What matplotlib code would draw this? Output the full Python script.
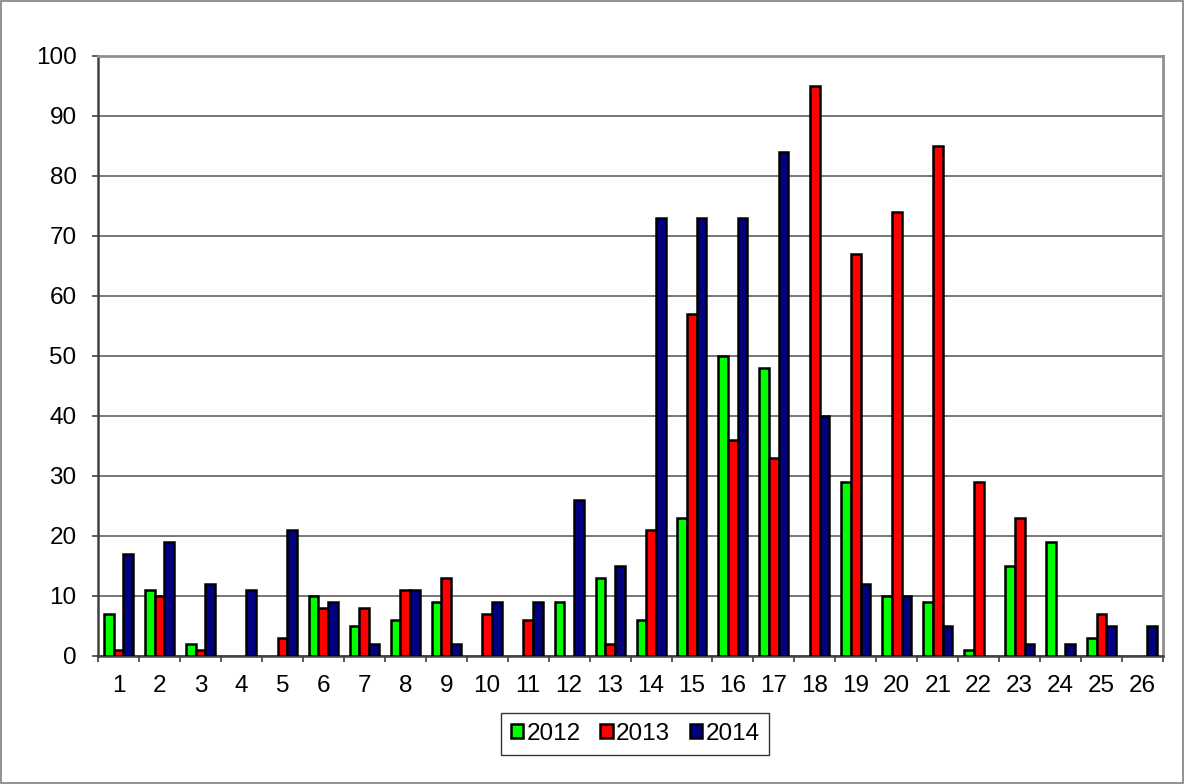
import numpy as np
import matplotlib
matplotlib.use("Agg")
import matplotlib.pyplot as plt
from matplotlib.patches import Rectangle

plt.rcParams['font.family'] = ['Liberation Sans', 'DejaVu Sans']

groups = list(range(1, 27))
years = ["2012", "2013", "2014"]
v2012 = [7, 11, 2, 0, 0, 10, 5, 6, 9, 0, 0, 9, 13, 6, 23, 50, 48, 0, 29, 10, 9, 1, 15, 19, 3, 0]
v2013 = [1, 10, 1, 0, 3, 8, 8, 11, 13, 7, 6, 0, 2, 21, 57, 36, 33, 95, 67, 74, 85, 29, 23, 0, 7, 0]
v2014 = [17, 19, 12, 11, 21, 9, 2, 11, 2, 9, 9, 26, 15, 73, 73, 73, 84, 40, 12, 10, 5, 0, 2, 2, 5, 5]
colors = ["#00ff00", "#ff0000", "#000080"]

fig = plt.figure(figsize=(11.84, 7.84), dpi=100)
ax = fig.add_axes([0.0828, 0.1633, 0.8995, 0.7653])

x = np.array(groups)
w = 0.236
for i, (vals, c, lab) in enumerate(zip([v2012, v2013, v2014], colors, years)):
    vals = np.array(vals)
    keep = vals > 0  # empty bars are not drawn
    ax.bar(x[keep] + (i - 1) * w, vals[keep], width=w, color=c, edgecolor="black",
           linewidth=1.8, label=lab, zorder=3)

ax.set_xlim(0.5, 26.5)
ax.set_ylim(0, 100)
ax.set_yticks(range(0, 101, 10))
ax.set_xticks(groups)
ax.set_xticks(np.arange(0.5, 27, 1), minor=True)
ax.tick_params(axis="x", which="major", length=0, pad=14, labelsize=17.5)
ax.tick_params(axis="x", which="minor", length=4.5, width=1.2, direction="out", color="#404040")
ax.tick_params(axis="y", length=4.5, width=1.2, direction="out", labelsize=17.5, pad=11, color="#404040")
ax.grid(axis="y", color="#606060", linewidth=1.2, zorder=0)

for s in ["top", "right"]:
    ax.spines[s].set_color("#909090")
    ax.spines[s].set_linewidth(2)
for s in ["left", "bottom"]:
    ax.spines[s].set_color("#404040")
    ax.spines[s].set_linewidth(1.8)

leg = ax.legend(loc="center", ncol=3, frameon=True, fancybox=False, fontsize=17.5,
                handlelength=0.5, handleheight=0.5, handletextpad=0.15,
                columnspacing=0.8, borderpad=0.4)
leg.set_bbox_to_anchor((0.5366, 0.0638), transform=fig.transFigure)
leg.get_frame().set_edgecolor("black")
leg.get_frame().set_linewidth(1.0)

fig.patches.append(Rectangle((0.001, 0.001), 0.998, 0.998, transform=fig.transFigure,
                             fill=False, edgecolor="#808080", linewidth=1.2))

fig.savefig("out.png", dpi=100)
